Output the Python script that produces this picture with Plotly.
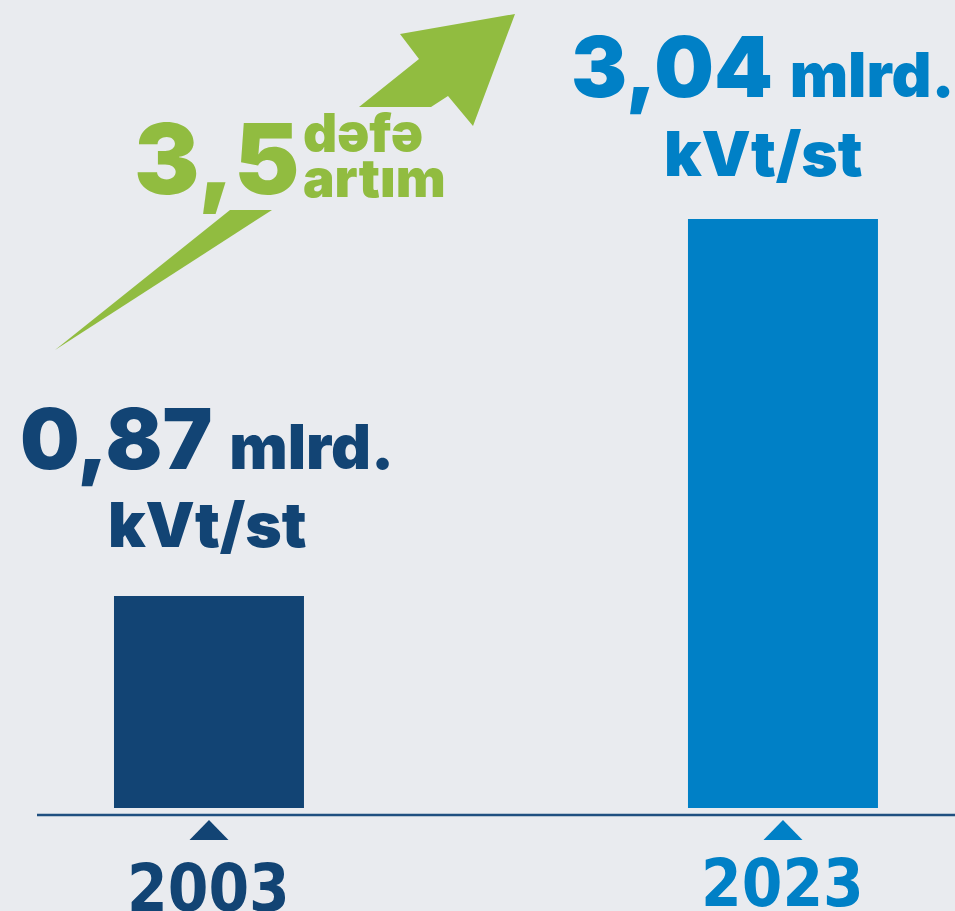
import plotly.graph_objects as go

# ---- data ----
years = ["2003", "2023"]
values = [0.87, 3.04]            # mlrd. kVt/st
unit_top = "mlrd."
unit_bottom = "kVt/st"
growth_words = ["dəfə", "artım"]

# ---- styling ----
W, H = 955, 911
BG = "#e9ebef"
NAVY = "#124474"
BLUE = "#0080c6"
GREEN = "#91bc40"
bar_colors = [NAVY, BLUE]
FONT = "Inter"
YEAR_FONT = "DejaVu Sans Condensed"

AXIS_FLOOR = -0.35               # bars rise from the visual floor of the axis
Y_RANGE = [-0.943, 4.301]
X_RANGE = [-0.3641, 1.2997]
BAR_WIDTH = 0.331


def px(x):
    return x / W


def py(y):
    return 1 - y / H


def fmt(v, nd=2):
    return f"{v:.{nd}f}".replace(".", ",")


fig = go.Figure()
fig.add_trace(go.Bar(
    x=list(range(len(years))),
    y=[v - AXIS_FLOOR for v in values],
    base=AXIS_FLOOR,
    width=BAR_WIDTH,
    marker=dict(color=bar_colors, line=dict(width=0)),
    hoverinfo="skip",
))

shapes = []
annotations = []

# baseline
shapes.append(dict(type="line", xref="paper", yref="paper",
                   x0=px(37), x1=px(955), y0=py(815), y1=py(815),
                   line=dict(color="#1f4f80", width=2.5)))

# growth arrow (split around the text)
def poly(points):
    return "M" + " L".join(f"{px(a):.5f},{py(b):.5f}" for a, b in points) + " Z"

arrow_tail = [(55, 350), (230, 210), (272, 210)]
arrow_head = [(359, 107), (431, 107), (448, 96), (473, 126),
              (515, 14), (400, 34), (419, 59)]
for pts in (arrow_tail, arrow_head):
    shapes.append(dict(type="path", xref="paper", yref="paper",
                       path=poly(pts), fillcolor=GREEN,
                       line=dict(width=0)))

label_shift = [-2, -20]
label_y = [(387, 486), (15, 115)]
year_top = [850, 845]
for i, (yr, v, col) in enumerate(zip(years, values, bar_colors)):
    # small marker triangle under the baseline
    shapes.append(dict(type="path", xref="x", yref="paper",
                       xsizemode="pixel", xanchor=i,
                       path=f"M-19.5,{py(840):.5f} L19.5,{py(840):.5f} L0,{py(820):.5f} Z",
                       fillcolor=col, line=dict(width=0)))
    # year label
    annotations.append(dict(x=i, xref="x", y=py(year_top[i]), yref="paper",
                            text=yr, showarrow=False, xanchor="center",
                            yanchor="top", borderpad=0,
                            font=dict(family=YEAR_FONT, size=65, color=col,
                                      weight="bold")))
    # value label
    annotations.append(dict(x=i, xref="x", xshift=label_shift[i],
                            y=py(label_y[i][0]), yref="paper",
                            text=f"{fmt(v)} <span style='font-size:62px'>{unit_top}</span>",
                            showarrow=False, xanchor="center", yanchor="top",
                            borderpad=0,
                            font=dict(family=FONT, size=84, color=col, weight=900)))
    annotations.append(dict(x=i, xref="x", xshift=label_shift[i],
                            y=py(label_y[i][1]), yref="paper",
                            text=unit_bottom, showarrow=False,
                            xanchor="center", yanchor="top", borderpad=0,
                            font=dict(family=FONT, size=62, color=col, weight=900)))

# growth factor
ratio = values[1] / values[0]
annotations.append(dict(x=px(133), xref="paper", y=py(98), yref="paper",
                        text=fmt(ratio, 1), showarrow=False,
                        xanchor="left", yanchor="top", borderpad=0,
                        font=dict(family=FONT, size=98, color=GREEN, weight=900)))
for word, top in zip(growth_words, (100, 145)):
    annotations.append(dict(x=px(302), xref="paper", y=py(top), yref="paper",
                            text=word, showarrow=False,
                            xanchor="left", yanchor="top", borderpad=0,
                            font=dict(family=FONT, size=53, color=GREEN, weight=900)))

fig.update_layout(
    width=W, height=H,
    margin=dict(l=0, r=0, t=0, b=0),
    paper_bgcolor=BG, plot_bgcolor=BG,
    showlegend=False,
    xaxis=dict(range=X_RANGE, visible=False, fixedrange=True),
    yaxis=dict(range=Y_RANGE, visible=False, fixedrange=True),
    shapes=shapes,
    annotations=annotations,
)

fig.write_html("out.html")
